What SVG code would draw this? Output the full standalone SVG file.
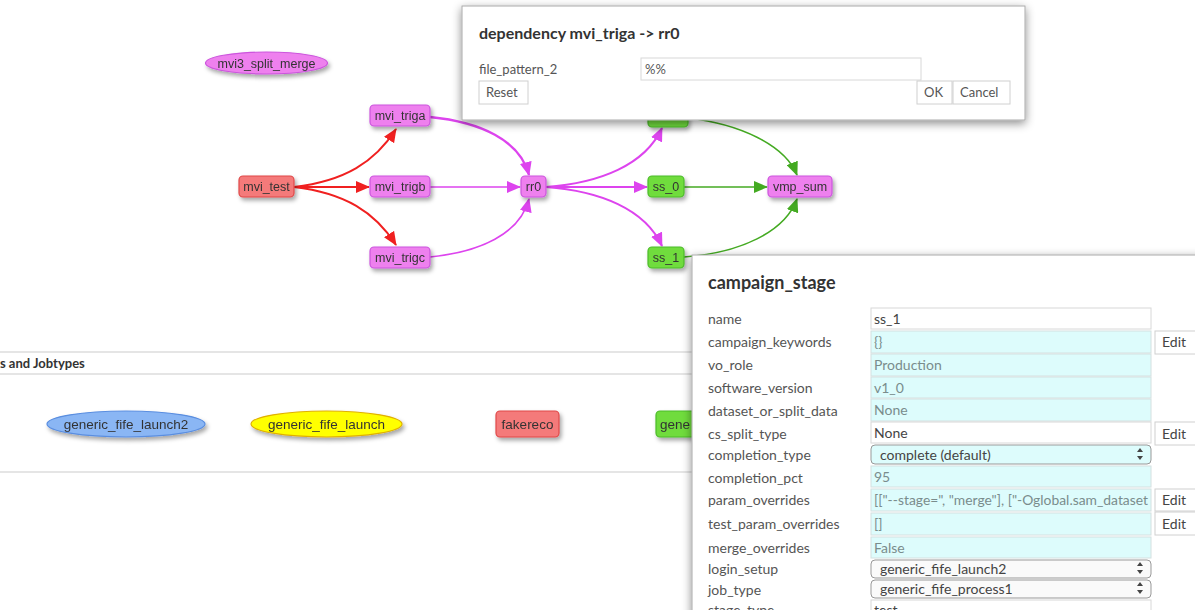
<svg xmlns="http://www.w3.org/2000/svg" width="1195" height="610" viewBox="0 0 1195 610">
<defs>
<filter id="sh" x="-30%" y="-40%" width="160%" height="200%"><feDropShadow dx="2" dy="3" stdDeviation="2" flood-color="#000" flood-opacity="0.35"/></filter>
<filter id="psh" x="-10%" y="-10%" width="120%" height="140%"><feDropShadow dx="0" dy="3" stdDeviation="5" flood-color="#000" flood-opacity="0.45"/></filter>
<marker id="ar" markerWidth="14" markerHeight="12" refX="13" refY="6" orient="auto" markerUnits="userSpaceOnUse"><path d="M0,0 L14,6 L0,12 Z" fill="#f02020"/></marker>
<marker id="am" markerWidth="14" markerHeight="12" refX="13" refY="6" orient="auto" markerUnits="userSpaceOnUse"><path d="M0,0 L14,6 L0,12 Z" fill="#dd44ee"/></marker>
<marker id="ag" markerWidth="14" markerHeight="12" refX="13" refY="6" orient="auto" markerUnits="userSpaceOnUse"><path d="M0,0 L14,6 L0,12 Z" fill="#44aa22"/></marker>
<clipPath id="pv"><rect x="871" y="489" width="280" height="22"/></clipPath>
</defs>
<style>
.nt{font-family:"Liberation Sans",Arial,sans-serif;font-size:12.5px;fill:#333;text-anchor:middle}
.vio{fill:#ee80ee;stroke:#cc55dd;stroke-width:1.2}
.red{fill:#f47a7a;stroke:#e04848;stroke-width:1.2}
.grn{fill:#6fdc3c;stroke:#4cbb2a;stroke-width:1.2}
.er{fill:none;stroke:#f02020;stroke-width:2}
.em{fill:none;stroke:#dd44ee;stroke-width:1.6}
.eg{fill:none;stroke:#44aa22;stroke-width:1.6}
.ui{font-family:Lato,"Open Sans",sans-serif;font-size:13px;fill:#555}
.pl{font-family:Lato,"Open Sans",sans-serif;font-size:14px;fill:#555}
.val{font-family:Lato,"Open Sans",sans-serif;font-size:14px;fill:#7a8c8c}
.dv{font-family:Lato,"Open Sans",sans-serif;font-size:14px;fill:#444}
.cy{fill:#ddfcfc;stroke:#d4e0e0;stroke-width:1}
.wb{fill:#fff;stroke:#d8d8d8;stroke-width:1}
.btn{fill:#fff;stroke:#d0d0d0;stroke-width:1}
.sep{stroke:#dcdcdc;stroke-width:1.5}
</style>
<rect width="1195" height="610" fill="#fff"/>

<g id="connectors">
<path class="er" d="M294,187 C345,181 375,162 396,129" marker-end="url(#ar)"/>
<path class="er" d="M294,187 L369,187" marker-end="url(#ar)"/>
<path class="er" d="M294,187 C345,193 375,212 396,245" marker-end="url(#ar)"/>
<path class="em" style="stroke-width:2.4" d="M430,117 C480,122 520,140 529,175" marker-end="url(#am)"/>
<path class="em" d="M430,187 L520,187" marker-end="url(#am)"/>
<path class="em" d="M430,257 C480,252 520,234 529,199" marker-end="url(#am)"/>
<path class="em" style="stroke-width:2" d="M546,187 C600,183 645,165 662,128" marker-end="url(#am)"/>
<path class="em" style="stroke-width:2" d="M546,187 L647,187" marker-end="url(#am)"/>
<path class="em" style="stroke-width:2" d="M546,187 C600,191 645,209 662,246" marker-end="url(#am)"/>
<path class="eg" d="M688,118 C740,124 785,145 797,175" marker-end="url(#ag)"/>
<path class="eg" d="M684,187 L767,187" marker-end="url(#ag)"/>
<path class="eg" d="M684,257 C740,253 785,232 797,199" marker-end="url(#ag)"/>
</g>

<g id="n-mvi3_split_merge" filter="url(#sh)"><ellipse class="vio" cx="266.5" cy="63" rx="61" ry="11"/><text class="nt" x="266.5" y="67.5">mvi3_split_merge</text></g>
<g id="n-mvi_triga" filter="url(#sh)"><rect class="vio" x="370" y="105" width="60" height="21" rx="4"/><text class="nt" x="400" y="120">mvi_triga</text></g>
<g id="n-mvi_test" filter="url(#sh)"><rect class="red" x="239" y="176" width="55" height="21" rx="4"/><text class="nt" x="266.5" y="191">mvi_test</text></g>
<g id="n-mvi_trigb" filter="url(#sh)"><rect class="vio" x="370" y="176" width="60" height="21" rx="4"/><text class="nt" x="400" y="191">mvi_trigb</text></g>
<g id="n-mvi_trigc" filter="url(#sh)"><rect class="vio" x="370" y="247" width="60" height="21" rx="4"/><text class="nt" x="400" y="262">mvi_trigc</text></g>
<g id="n-rr0" filter="url(#sh)"><rect class="vio" x="521" y="176" width="25" height="21" rx="4"/><text class="nt" x="533.5" y="191">rr0</text></g>
<g id="n-hidden" filter="url(#sh)"><rect class="grn" x="648" y="106" width="40" height="21" rx="4"/></g>
<g id="n-ss_0" filter="url(#sh)"><rect class="grn" x="648" y="176" width="36" height="21" rx="4"/><text class="nt" x="666" y="191">ss_0</text></g>
<g id="n-ss_1" filter="url(#sh)"><rect class="grn" x="648" y="247" width="36" height="21" rx="4"/><text class="nt" x="666" y="262">ss_1</text></g>
<g id="n-vmp_sum" filter="url(#sh)"><rect class="vio" x="768" y="176" width="64" height="21" rx="4"/><text class="nt" x="800" y="191">vmp_sum</text></g>

<g id="dialog">
<rect x="462" y="6" width="563" height="114" fill="#fff" stroke="#aaa" stroke-width="1" filter="url(#psh)"/>
<text x="479" y="39" font-family="Lato,'Open Sans',sans-serif" font-size="16" font-weight="bold" fill="#333">dependency mvi_triga -&gt; rr0</text>
<text class="ui" x="479" y="74">file_pattern_2</text>
<rect class="wb" x="641" y="58" width="280" height="22"/>
<text class="ui" x="645" y="74" fill="#666">%%</text>
<rect class="btn" x="479" y="81" width="49" height="23"/>
<text class="ui" x="486" y="97">Reset</text>
<rect class="btn" x="917" y="81" width="35" height="23"/>
<text class="ui" x="924" y="97">OK</text>
<rect class="btn" x="953" y="81" width="57" height="23"/>
<text class="ui" x="960" y="97">Cancel</text>
</g>

<g id="section">
<line class="sep" x1="0" y1="352" x2="700" y2="352"/>
<line class="sep" x1="0" y1="374" x2="700" y2="374"/>
<line class="sep" x1="0" y1="472" x2="700" y2="472"/>
<text x="0" y="368" font-family="Lato,'Open Sans',sans-serif" font-size="13" font-weight="bold" fill="#333">s and Jobtypes</text>
</g>

<g id="n-generic_fife_launch2" filter="url(#sh)"><ellipse cx="126" cy="424" rx="79" ry="13" fill="#8ab6f4" stroke="#5a8ee0" stroke-width="1.2"/><text class="nt" x="126" y="428.5" style="font-size:13.5px">generic_fife_launch2</text></g>
<g id="n-generic_fife_launch" filter="url(#sh)"><ellipse cx="326.5" cy="424" rx="75.5" ry="13" fill="#ffff00" stroke="#e0b000" stroke-width="1.2"/><text class="nt" x="326.5" y="428.5" style="font-size:13.5px">generic_fife_launch</text></g>
<g id="n-fakereco" filter="url(#sh)"><rect class="red" x="496" y="411" width="63" height="26" rx="4"/><text class="nt" x="527.5" y="428.5" style="font-size:13.5px">fakereco</text></g>
<g id="n-gene" filter="url(#sh)"><rect class="grn" x="656" y="411" width="60" height="26" rx="4"/><text class="nt" x="660" y="428.5" style="text-anchor:start;font-size:13.5px">gene</text></g>

<g id="panel">
<rect x="692" y="255" width="520" height="370" fill="#fff" stroke="#aaa" stroke-width="1" filter="url(#psh)"/>
<text x="708" y="289" font-family="Lato,'Open Sans',sans-serif" font-size="18" font-weight="bold" fill="#333">campaign_stage</text>

<text class="pl" x="708" y="324">name</text>
<rect class="wb" x="871" y="308" width="280" height="21"/>
<text class="dv" x="874" y="324">ss_1</text>

<text class="pl" x="708" y="347">campaign_keywords</text>
<rect class="cy" x="871" y="331" width="280" height="22"/>
<text class="val" x="874" y="347">{}</text>
<rect class="btn" x="1155" y="331" width="45" height="23"/>
<text class="dv" x="1162" y="347">Edit</text>

<text class="pl" x="708" y="370">vo_role</text>
<rect class="cy" x="871" y="354" width="280" height="22"/>
<text class="val" x="874" y="370">Production</text>

<text class="pl" x="708" y="393">software_version</text>
<rect class="cy" x="871" y="377" width="280" height="21"/>
<text class="val" x="874" y="393">v1_0</text>

<text class="pl" x="708" y="416">dataset_or_split_data</text>
<rect class="cy" x="871" y="399" width="280" height="22"/>
<text class="val" x="874" y="415">None</text>

<text class="pl" x="708" y="439">cs_split_type</text>
<rect class="wb" x="871" y="422" width="280" height="21"/>
<text class="dv" x="874" y="438">None</text>
<rect class="btn" x="1155" y="422" width="45" height="23"/>
<text class="dv" x="1162" y="439">Edit</text>

<text class="pl" x="708" y="460">completion_type</text>
<rect x="871" y="445" width="280" height="19" rx="4" fill="#ddfcfc" stroke="#999" stroke-width="1"/>
<text class="dv" x="880" y="460">complete (default)</text>
<path d="M1137,452 L1143,452 L1140,448 Z M1137,456 L1143,456 L1140,460 Z" fill="#444"/>

<text class="pl" x="708" y="483">completion_pct</text>
<rect class="cy" x="871" y="466" width="280" height="21"/>
<text class="val" x="874" y="482">95</text>

<text class="pl" x="708" y="505">param_overrides</text>
<rect class="cy" x="871" y="489" width="280" height="22"/>
<text class="val" x="874" y="505" clip-path="url(#pv)" fill="#6a9aa6" textLength="274" lengthAdjust="spacingAndGlyphs">[["--stage=", "merge"], ["-Oglobal.sam_dataset</text>
<rect class="btn" x="1155" y="489" width="45" height="22"/>
<text class="dv" x="1162" y="505">Edit</text>

<text class="pl" x="708" y="529">test_param_overrides</text>
<rect class="cy" x="871" y="513" width="280" height="22"/>
<text class="val" x="874" y="529">[]</text>
<rect class="btn" x="1155" y="512" width="45" height="23"/>
<text class="dv" x="1162" y="529">Edit</text>

<text class="pl" x="708" y="553">merge_overrides</text>
<rect class="cy" x="871" y="537" width="280" height="21"/>
<text class="val" x="874" y="553">False</text>

<text class="pl" x="708" y="574">login_setup</text>
<rect x="871" y="560" width="280" height="18" rx="4" fill="#fafafa" stroke="#999" stroke-width="1"/>
<text class="dv" x="880" y="574">generic_fife_launch2</text>
<path d="M1137,566 L1143,566 L1140,562 Z M1137,570 L1143,570 L1140,574 Z" fill="#444"/>

<text class="pl" x="708" y="595">job_type</text>
<rect x="871" y="580" width="280" height="18" rx="4" fill="#fafafa" stroke="#999" stroke-width="1"/>
<text class="dv" x="880" y="594">generic_fife_process1</text>
<path d="M1137,586 L1143,586 L1140,582 Z M1137,590 L1143,590 L1140,594 Z" fill="#444"/>

<text class="pl" x="708" y="615">stage_type</text>
<rect class="wb" x="871" y="600" width="280" height="22"/>
<text class="dv" x="874" y="615">test</text>
</g>
</svg>
